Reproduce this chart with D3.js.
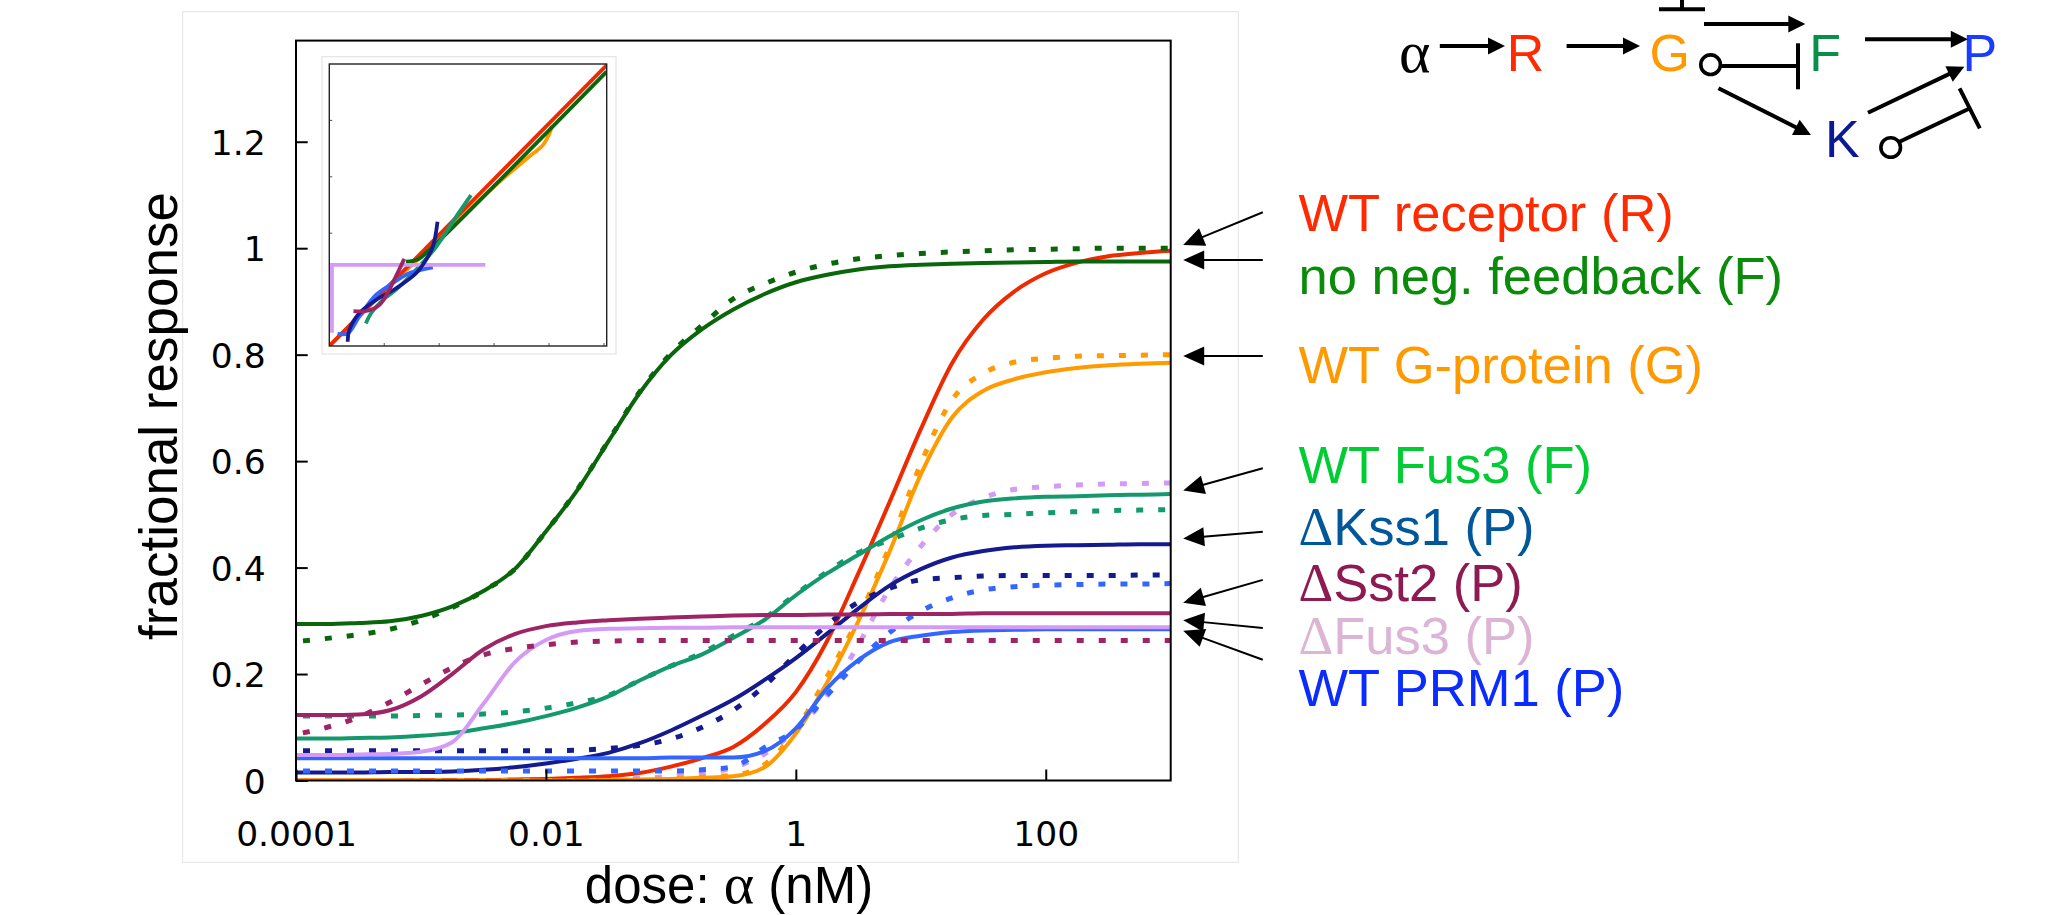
<!DOCTYPE html>
<html><head><meta charset="utf-8">
<script src="https://cdn.jsdelivr.net/npm/d3@7"></script>
<style>
html,body{margin:0;padding:0;background:#fff;}
svg{display:block;}
</style></head>
<body>
<svg id="chart" width="2056" height="915"></svg>
<script>
// ---------------- DATA ----------------
// dose grid: exponents of 10 (nM)
const doseExponents = [-4,-3.75,-3.5,-3.25,-3,-2.75,-2.5,-2.25,-2,-1.75,-1.5,-1.25,-1,-0.75,-0.5,-0.25,0,0.25,0.5,0.75,1,1.25,1.5,1.75,2,2.25,2.5,2.75,3];
const doseTicks = [1e-4, 1e-2, 1, 100];
const doseTickLabels = ["0.0001", "0.01", "1", "100"];
const responseTicks = [0, 0.2, 0.4, 0.6, 0.8, 1, 1.2];
const responseTickLabels = ["0", "0.2", "0.4", "0.6", "0.8", "1", "1.2"];

const noNegFeedbackSolid  = [0.294,0.294,0.296,0.299,0.309,0.327,0.356,0.397,0.468,0.545,0.637,0.728,0.799,0.848,0.885,0.914,0.936,0.950,0.960,0.966,0.969,0.971,0.972,0.973,0.974,0.975,0.975,0.975,0.975];
const noNegFeedbackDotted = [0.261,0.267,0.274,0.284,0.301,0.325,0.356,0.397,0.468,0.546,0.638,0.730,0.802,0.855,0.905,0.933,0.955,0.970,0.980,0.986,0.990,0.993,0.995,0.997,0.998,0.999,1.000,1.000,1.000];
const receptorSolid       = [0,0,0,0,0.001,0.001,0.001,0.002,0.003,0.005,0.008,0.014,0.026,0.042,0.063,0.106,0.166,0.262,0.389,0.523,0.660,0.784,0.866,0.919,0.953,0.973,0.985,0.991,0.995];
const gProteinSolid       = [0,0,0,0,0,0,0,0,0,0,0.001,0.002,0.003,0.005,0.008,0.025,0.088,0.184,0.299,0.430,0.575,0.682,0.732,0.754,0.767,0.775,0.780,0.783,0.785];
const gProteinDotted      = [0,0,0,0,0,0,0,0,0,0,0.001,0.002,0.003,0.006,0.010,0.030,0.095,0.195,0.305,0.440,0.595,0.715,0.765,0.786,0.793,0.797,0.798,0.799,0.800];
const fus3Solid           = [0.079,0.079,0.080,0.081,0.084,0.089,0.098,0.108,0.121,0.137,0.158,0.188,0.215,0.237,0.268,0.302,0.348,0.389,0.424,0.459,0.489,0.511,0.524,0.530,0.533,0.534,0.536,0.537,0.538];
const fus3Dotted          = [0.121,0.121,0.121,0.121,0.122,0.123,0.125,0.129,0.136,0.146,0.160,0.188,0.215,0.240,0.272,0.305,0.350,0.392,0.428,0.452,0.474,0.490,0.498,0.500,0.503,0.505,0.507,0.508,0.509];
const kss1Solid           = [0.015,0.015,0.015,0.016,0.016,0.017,0.020,0.025,0.032,0.041,0.052,0.070,0.094,0.122,0.152,0.189,0.230,0.276,0.323,0.366,0.397,0.419,0.431,0.438,0.441,0.442,0.443,0.444,0.444];
const kss1Dotted          = [0.056,0.056,0.056,0.056,0.056,0.056,0.056,0.056,0.056,0.057,0.060,0.066,0.078,0.100,0.132,0.178,0.237,0.292,0.335,0.361,0.377,0.381,0.384,0.385,0.385,0.385,0.385,0.386,0.386];
const prm1Solid           = [0.042,0.042,0.042,0.042,0.042,0.042,0.042,0.042,0.042,0.042,0.042,0.042,0.043,0.043,0.043,0.055,0.098,0.173,0.226,0.260,0.272,0.279,0.282,0.283,0.284,0.284,0.284,0.284,0.284];
const prm1Dotted          = [0.018,0.018,0.018,0.018,0.018,0.018,0.018,0.018,0.018,0.018,0.018,0.018,0.018,0.020,0.026,0.062,0.096,0.160,0.224,0.278,0.318,0.343,0.358,0.364,0.367,0.368,0.369,0.369,0.370];
const sst2Solid           = [0.123,0.123,0.124,0.132,0.158,0.200,0.246,0.275,0.290,0.297,0.301,0.304,0.306,0.308,0.310,0.311,0.311,0.312,0.312,0.313,0.313,0.313,0.314,0.314,0.314,0.314,0.314,0.314,0.314];
const sst2Dotted          = [0.087,0.100,0.119,0.147,0.180,0.212,0.236,0.248,0.255,0.260,0.262,0.263,0.263,0.263,0.263,0.263,0.263,0.263,0.263,0.263,0.263,0.263,0.263,0.263,0.263,0.263,0.263,0.263,0.263];
const dFus3Solid          = [0.048,0.048,0.049,0.050,0.054,0.072,0.144,0.222,0.264,0.281,0.285,0.286,0.287,0.287,0.288,0.288,0.288,0.288,0.288,0.288,0.288,0.288,0.288,0.288,0.288,0.288,0.288,0.288,0.288];
const dFus3Dotted         = [0,0,0,0,0,0,0,0,0,0,0.002,0.004,0.008,0.014,0.024,0.050,0.095,0.160,0.255,0.360,0.440,0.500,0.531,0.547,0.552,0.555,0.557,0.558,0.559];

// inset curves: [x, y] pairs
const insetReceptor = [[0,0],[1.01,0.996]];
const insetNoNegFeedback = [[0.279,0.299],[0.322,0.307],[0.358,0.335],[1.01,0.973]];
const insetGProtein = [[0,0],[0.121,0.116],[0.242,0.234],[0.364,0.345],[0.485,0.459],[0.606,0.571],[0.727,0.671],[0.778,0.713],[0.801,0.752],[0.811,0.78]];
const insetFus3 = [[0.133,0.080],[0.152,0.116],[0.194,0.163],[0.242,0.199],[0.316,0.27],[0.389,0.352],[0.462,0.459],[0.516,0.535]];
const insetKss1 = [[0.067,0.015],[0.073,0.057],[0.109,0.116],[0.170,0.163],[0.242,0.204],[0.316,0.258],[0.352,0.305],[0.377,0.352],[0.394,0.441]];
const insetPrm1 = [[0.030,0.043],[0.067,0.045],[0.109,0.104],[0.170,0.181],[0.230,0.222],[0.291,0.258],[0.377,0.279]];
const insetSst2 = [[0.088,0.124],[0.139,0.125],[0.182,0.145],[0.212,0.187],[0.242,0.246],[0.273,0.309]];
const insetDFus3 = [[0.0097,0.047],[0.0097,0.288],[0.568,0.288]];
const insetTicks = [0.2, 0.4, 0.6, 0.8, 1.0];

const legendLabels = ["WT receptor (R)", "no neg. feedback (F)", "WT G-protein (G)", "WT Fus3 (F)", "\u0394Kss1 (P)", "\u0394Sst2 (P)", "\u0394Fus3 (P)", "WT PRM1 (P)"];

// ---------------- STYLE / LAYOUT ----------------
const C = {
  green: "#0a660a", red: "#ee2a00", orange: "#ff9a00", teal: "#14996c",
  navy: "#151a8e", blue: "#3366ff", maroon: "#9e2466", lavender: "#d39bf6"
};
const legendColors = ["#ff2a00", "#0a8c0a", "#ff9900", "#00cc33", "#00579a", "#8e1a52", "#dcb4d5", "#0a2cff"];
const legendBaselines = [230.9, 294, 382.7, 483.4, 544.8, 600.9, 654.2, 706.1];
const legendArrowStartY = [212.3, 260, 356, 468.3, 531.8, 579.9, 627.9, 659.8];
const legendArrowTipY = [244.9, 260, 356, 490.4, 538.5, 602.7, 620.2, 630.7];

const svg = d3.select("#chart");
const M = {left: 296, right: 1170.7, top: 40.6, bottom: 780.5};
const SANS = "'Liberation Sans', Arial, sans-serif";
const SERIF = "'Liberation Serif', 'Times New Roman', serif";

// outer light panel
svg.append("rect").attr("x", 182.7).attr("y", 11.7).attr("width", 1055.6).attr("height", 850.6)
  .attr("fill", "#fff").attr("stroke", "#e3e3e3").attr("stroke-width", 1);

const x = d3.scaleLog().domain([1e-4, 1e3]).range([M.left, M.right]);
const y = d3.scaleLinear().domain([0, 1.39]).range([M.bottom, M.top]);

svg.append("clipPath").attr("id", "plotclip").append("rect")
  .attr("x", M.left).attr("y", M.top).attr("width", M.right - M.left).attr("height", M.bottom - M.top);

const doses = doseExponents.map(e => Math.pow(10, e));
const line = d3.line().x(d => x(d[0])).y(d => y(d[1])).curve(d3.curveMonotoneX);

const series = [
  {v: dFus3Dotted, c: C.lavender, dot: true},
  {v: receptorSolid, c: C.red},
  {v: gProteinSolid, c: C.orange},
  {v: gProteinDotted, c: C.orange, dot: true},
  {v: noNegFeedbackSolid, c: C.green},
  {v: noNegFeedbackDotted, c: C.green, dot: true},
  {v: fus3Solid, c: C.teal},
  {v: fus3Dotted, c: C.teal, dot: true},
  {v: kss1Solid, c: C.navy},
  {v: kss1Dotted, c: C.navy, dot: true},
  {v: prm1Solid, c: C.blue},
  {v: prm1Dotted, c: C.blue, dot: true},
  {v: dFus3Solid, c: C.lavender},
  {v: sst2Solid, c: C.maroon},
  {v: sst2Dotted, c: C.maroon, dot: true}
];

const gLines = svg.append("g").attr("clip-path", "url(#plotclip)");
series.forEach(s => {
  gLines.append("path")
    .datum(doses.map((d, i) => [d, s.v[i]]))
    .attr("d", line)
    .attr("fill", "none")
    .attr("stroke", s.c)
    .attr("stroke-width", s.dot ? 5 : 4)
    .attr("stroke-dasharray", s.dot ? "7,15" : null)
    .attr("stroke-dashoffset", s.dot ? 15 : null)
    .attr("stroke-linejoin", "round");
});

// axes
const yAxis = d3.axisLeft(y).tickValues(responseTicks)
  .tickFormat((d, i) => responseTickLabels[i]).tickSize(-11.7).tickPadding(30.3);
const gy = svg.append("g").attr("transform", `translate(${M.left},0)`).call(yAxis);
const xAxis = d3.axisBottom(x).tickValues(doseTicks)
  .tickFormat((d, i) => doseTickLabels[i]).tickSize(-11).tickPadding(41.2);
const gx = svg.append("g").attr("transform", `translate(0,${M.bottom})`).call(xAxis);
[gx, gy].forEach(g => {
  g.select(".domain").remove();
  g.selectAll(".tick line").attr("stroke", "#000").attr("stroke-width", 2);
  g.selectAll(".tick text").attr("fill", "#000")
    .style("font-family", "'DejaVu Sans', Verdana, sans-serif").style("font-size", "34.5px");
});
gy.selectAll(".tick text").attr("dy", "0.37em");

// frame
svg.append("rect").attr("x", M.left).attr("y", M.top)
  .attr("width", M.right - M.left).attr("height", M.bottom - M.top)
  .attr("fill", "none").attr("stroke", "#000").attr("stroke-width", 2);

// axis titles
svg.append("text").attr("transform", "translate(177,416) rotate(-90)")
  .attr("text-anchor", "middle").style("font-family", SANS).style("font-size", "53px")
  .attr("fill", "#000").text("fractional response");
const xt = svg.append("text").attr("x", 729).attr("y", 902.5).attr("text-anchor", "middle")
  .style("font-family", SANS).style("font-size", "51px").attr("fill", "#000");
xt.append("tspan").text("dose: ");
xt.append("tspan").style("font-family", SERIF).style("font-size", "58px").text("\u03b1");
xt.append("tspan").text(" (nM)");

// ---------------- INSET ----------------
const IN = {left: 329.3, right: 606.7, top: 64, bottom: 346};
svg.append("rect").attr("x", 322).attr("y", 56.7).attr("width", 294).attr("height", 297.3)
  .attr("fill", "#fff").attr("stroke", "#e4e4e4").attr("stroke-width", 1.2);
const ix = d3.scaleLinear().domain([0, 1.01]).range([IN.left, IN.right]);
const iy = d3.scaleLinear().domain([0, 1]).range([IN.bottom, IN.top]);
svg.append("clipPath").attr("id", "insetclip").append("rect")
  .attr("x", IN.left).attr("y", IN.top).attr("width", IN.right - IN.left).attr("height", IN.bottom - IN.top);
const gIn = svg.append("g");
gIn.selectAll(".ixt").data(insetTicks).join("line")
  .attr("x1", d => ix(d)).attr("x2", d => ix(d)).attr("y1", IN.bottom).attr("y2", IN.bottom - 3)
  .attr("stroke", "#555").attr("stroke-width", 1);
gIn.selectAll(".iyt").data(insetTicks.slice(0, 4)).join("line")
  .attr("y1", d => iy(d)).attr("y2", d => iy(d)).attr("x1", IN.left).attr("x2", IN.left + 3)
  .attr("stroke", "#555").attr("stroke-width", 1);
const iline = d3.line().x(d => ix(d[0])).y(d => iy(d[1])).curve(d3.curveCatmullRom.alpha(0.5));
const ilineLin = d3.line().x(d => ix(d[0])).y(d => iy(d[1]));
const insetSeries = [
  {d: insetGProtein, c: C.orange},
  {d: insetReceptor, c: C.red},
  {d: insetNoNegFeedback, c: C.green},
  {d: insetFus3, c: C.teal},
  {d: insetPrm1, c: C.blue},
  {d: insetDFus3, c: C.lavender, lin: true},
  {d: insetKss1, c: C.navy},
  {d: insetSst2, c: C.maroon}
];
const gInL = gIn.append("g").attr("clip-path", "url(#insetclip)");
insetSeries.forEach(s => {
  gInL.append("path").datum(s.d).attr("d", s.lin ? ilineLin : iline)
    .attr("fill", "none").attr("stroke", s.c).attr("stroke-width", 3.8)
    .attr("stroke-linejoin", "miter").attr("stroke-linecap", "butt");
});
gIn.append("rect").attr("x", IN.left).attr("y", IN.top)
  .attr("width", IN.right - IN.left).attr("height", IN.bottom - IN.top)
  .attr("fill", "none").attr("stroke", "#222").attr("stroke-width", 1.4);

// ---------------- ARROW HELPER ----------------
function arrow(g, x1, y1, x2, y2, len, half, sw) {
  const dx = x2 - x1, dy = y2 - y1, L = Math.hypot(dx, dy);
  const ux = dx / L, uy = dy / L;
  const bx = x2 - ux * len, by = y2 - uy * len;
  g.append("line").attr("x1", x1).attr("y1", y1).attr("x2", bx + ux * 1).attr("y2", by + uy * 1)
    .attr("stroke", "#000").attr("stroke-width", sw);
  g.append("path").attr("d", `M${x2},${y2}L${bx - uy * half},${by + ux * half}L${bx + uy * half},${by - ux * half}Z`)
    .attr("fill", "#000");
}

// ---------------- LEGEND LABELS ----------------
const gLeg = svg.append("g");
legendLabels.forEach((lab, i) => {
  const t = gLeg.append("text").attr("x", 1298.5).attr("y", legendBaselines[i])
    .style("font-family", SANS).style("font-size", "52.5px").attr("fill", legendColors[i]);
  if (lab[0] === "\u0394") {
    t.append("tspan").style("font-family", SERIF).style("font-size", "54px").text("\u0394");
    t.append("tspan").text(lab.slice(1));
  } else t.text(lab);
  arrow(gLeg, 1262.8, legendArrowStartY[i], 1183.2, legendArrowTipY[i], 21, 9.5, 2);
});

// ---------------- NETWORK DIAGRAM ----------------
const gD = svg.append("g");
const nodeStyle = (sel, col) => sel.style("font-family", SANS).style("font-size", "52px").attr("fill", col);
gD.append("text").attr("x", 1399).attr("y", 72).style("font-family", SERIF).style("font-size", "60px").attr("fill", "#000").text("\u03b1");
nodeStyle(gD.append("text").attr("x", 1506.7).attr("y", 70.7).text("R"), "#ff2a00");
nodeStyle(gD.append("text").attr("x", 1649.4).attr("y", 70.7).text("G"), "#ff9900");
nodeStyle(gD.append("text").attr("x", 1809.3).attr("y", 70.7).text("F"), "#0a8f4a");
nodeStyle(gD.append("text").attr("x", 1962.6).attr("y", 70.7).text("P"), "#1a3cff");
nodeStyle(gD.append("text").attr("x", 1825).attr("y", 157.3).text("K"), "#0a1a96");

arrow(gD, 1439.8, 46, 1505, 46, 17, 8.5, 4);
arrow(gD, 1566.6, 46, 1640, 46, 17, 8.5, 4);
arrow(gD, 1704, 24, 1805.3, 24, 17, 8.5, 4);
arrow(gD, 1865, 39.3, 1967.8, 39.3, 17, 8.5, 4);
arrow(gD, 1718.5, 88.3, 1811, 135, 17, 8.5, 4);
arrow(gD, 1868, 112.7, 1964.4, 66.7, 17, 8.5, 4);
// inhibition bar above G
gD.append("line").attr("x1", 1682).attr("y1", 0).attr("x2", 1682).attr("y2", 9.3).attr("stroke", "#000").attr("stroke-width", 4);
gD.append("line").attr("x1", 1659).attr("y1", 9.3).attr("x2", 1705).attr("y2", 9.3).attr("stroke", "#000").attr("stroke-width", 4);
// G o--| F
gD.append("line").attr("x1", 1720).attr("y1", 66).attr("x2", 1797).attr("y2", 66).attr("stroke", "#000").attr("stroke-width", 4);
gD.append("line").attr("x1", 1798).attr("y1", 43.3).attr("x2", 1798).attr("y2", 89.3).attr("stroke", "#000").attr("stroke-width", 4);
gD.append("circle").attr("cx", 1710.6).attr("cy", 64.7).attr("r", 9.8).attr("fill", "#fff").attr("stroke", "#000").attr("stroke-width", 3.6);
// K o--| P
gD.append("line").attr("x1", 1899).attr("y1", 142).attr("x2", 1969.5).attr("y2", 108.5).attr("stroke", "#000").attr("stroke-width", 4);
gD.append("line").attr("x1", 1959.6).attr("y1", 88.3).attr("x2", 1979.8).attr("y2", 128.3).attr("stroke", "#000").attr("stroke-width", 4);
gD.append("circle").attr("cx", 1890.7).attr("cy", 147.5).attr("r", 9.8).attr("fill", "#fff").attr("stroke", "#000").attr("stroke-width", 3.6);
</script>
</body></html>
